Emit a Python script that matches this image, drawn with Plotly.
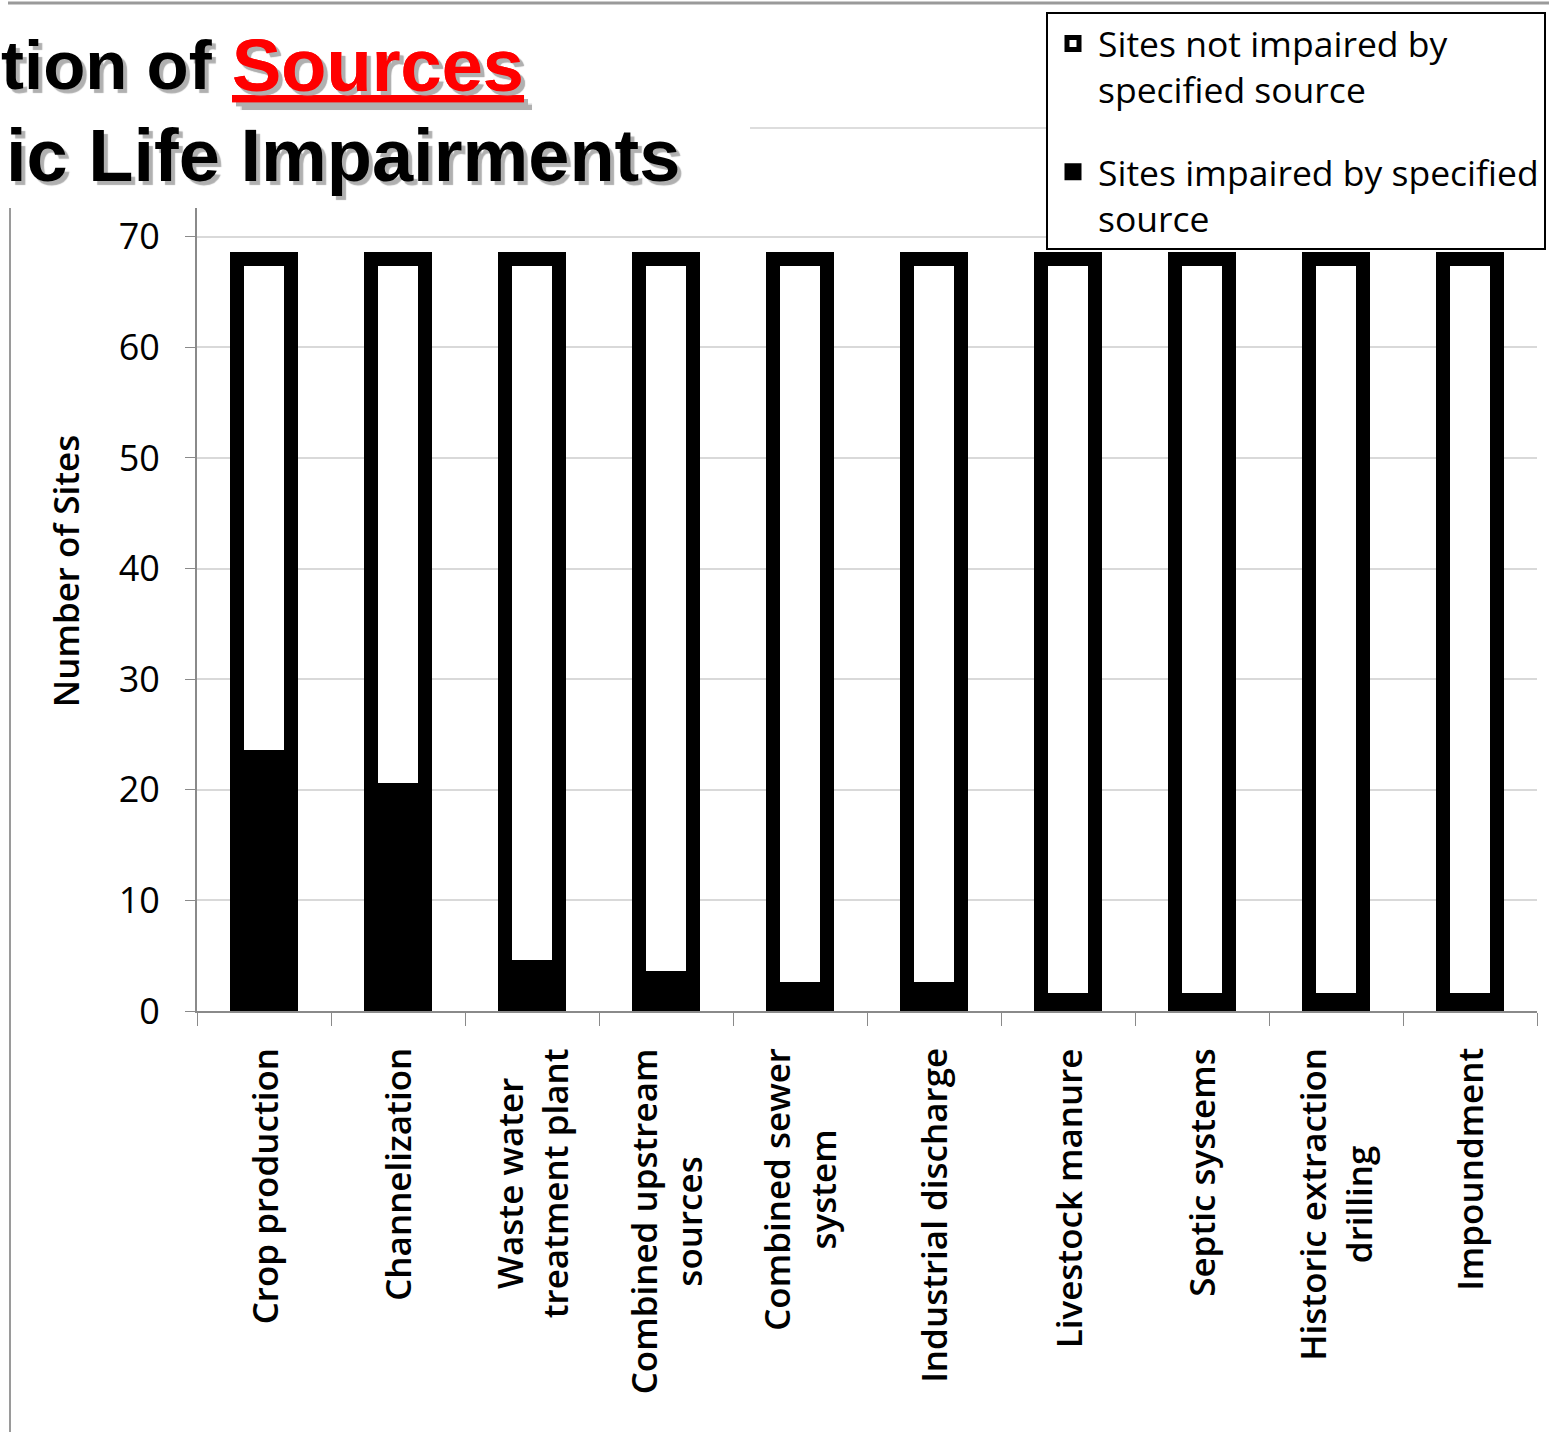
import plotly.graph_objects as go

categories = [
    "Crop production", "Channelization", "Waste water<br>treatment plant",
    "Combined upstream<br>sources", "Combined sewer<br>system", "Industrial discharge",
    "Livestock manure", "Septic systems", "Historic extraction<br>drilling", "Impoundment",
]
impaired = [23, 20, 4, 3, 2, 2, 1, 1, 1, 1]
not_impaired = [45, 48, 64, 65, 66, 66, 67, 67, 67, 67]
y_ticks = [0, 10, 20, 30, 40, 50, 60, 70]

W, H = 1549, 1432
L, R, T, B = 197, 1537, 208, 1010.7


def px(x):
    return (x - L) / (R - L)


def py(y):
    return (B - y) / (B - T)


FONT = "Open Sans, Lato, sans-serif"

fig = go.Figure()
fig.add_trace(go.Bar(
    x=categories, y=impaired, name="Sites impaired by specified<br>source",
    marker=dict(color="black", line=dict(color="black", width=14)),
    legendgroup="b", legendrank=2,
))
fig.add_trace(go.Bar(
    x=categories, y=not_impaired, name="Sites not impaired by<br>specified source",
    marker=dict(color="white", line=dict(color="black", width=14)),
    legendgroup="a", legendrank=1,
))

fig.update_layout(
    width=W, height=H,
    margin=dict(l=L, r=W - R, t=T, b=H - B, autoexpand=False),
    paper_bgcolor="white", plot_bgcolor="white",
    barmode="stack", bargap=0.6,
    font=dict(family=FONT, size=36, color="black"),
    legend=dict(
        x=px(1046), y=py(12), xanchor="left", yanchor="top",
        bgcolor="white", bordercolor="black", borderwidth=2,
        font=dict(family=FONT, size=35.5, color="black"),
        traceorder="grouped", tracegroupgap=33, itemwidth=40, valign="top",
    ),
    showlegend=True,
)
fig.update_xaxes(
    range=[-0.5, len(categories) - 0.5],
    showline=True, linecolor="#8a8a8a", linewidth=2,
    ticks="outside", tickson="boundaries", ticklen=13, tickcolor="#8a8a8a",
    showticklabels=False, showgrid=False,
)
fig.update_yaxes(
    range=[0, 72.6], tickvals=y_ticks,
    showline=True, linecolor="#8a8a8a", linewidth=2,
    ticks="outside", ticklen=10, tickcolor="#8a8a8a",
    showgrid=True, gridcolor="#d9d9d9", gridwidth=1.5, zeroline=False,
    tickfont=dict(family=FONT, size=36), ticklabelstandoff=18,
)

annotations = []
# category labels (rotated, centred lines)
for c in categories:
    annotations.append(dict(
        x=c, xref="x", y=py(1046), yref="paper", text=c, showarrow=False,
        textangle=-90, xanchor="center", yanchor="top", align="center",
        font=dict(family=FONT, size=35, weight=600),
    ))
# y axis title
annotations.append(dict(
    x=px(65), y=py(571), xref="paper", yref="paper", text="Number of Sites",
    showarrow=False, textangle=-90, xanchor="center", yanchor="middle",
    font=dict(family=FONT, size=35, weight=600),
))
# title lines
title_font = dict(family="Liberation Sans, Arial, sans-serif", size=74, weight="bold",
                  color="black", shadow="4px 4px 1px #b0b0b0")
annotations.append(dict(
    x=px(-1), y=py(66), xref="paper", yref="paper", text="tion of",
    showarrow=False, xanchor="left", yanchor="middle", font=dict(title_font, size=69),
))
annotations.append(dict(
    x=px(230), y=py(66), xref="paper", yref="paper", text="Sources",
    showarrow=False, xanchor="left", yanchor="middle",
    font=dict(title_font, color="#ff0000", lineposition="under"),
))
annotations.append(dict(
    x=px(682), y=py(156), xref="paper", yref="paper", text="ic Life Impairments",
    showarrow=False, xanchor="right", yanchor="middle", font=title_font,
))
fig.update_layout(annotations=annotations)

# slide frame decorations
fig.add_shape(type="line", xref="paper", yref="paper", x0=px(8), x1=px(1549), y0=py(3), y1=py(3),
              line=dict(color="#9a9a9a", width=3))
fig.add_shape(type="line", xref="paper", yref="paper", x0=px(10), x1=px(10), y0=py(208), y1=py(1432),
              line=dict(color="#9a9a9a", width=2))
fig.add_shape(type="line", xref="paper", yref="paper", x0=px(750), x1=px(1046), y0=py(128), y1=py(128),
              line=dict(color="#dddddd", width=2))

fig.write_html("out.html")
